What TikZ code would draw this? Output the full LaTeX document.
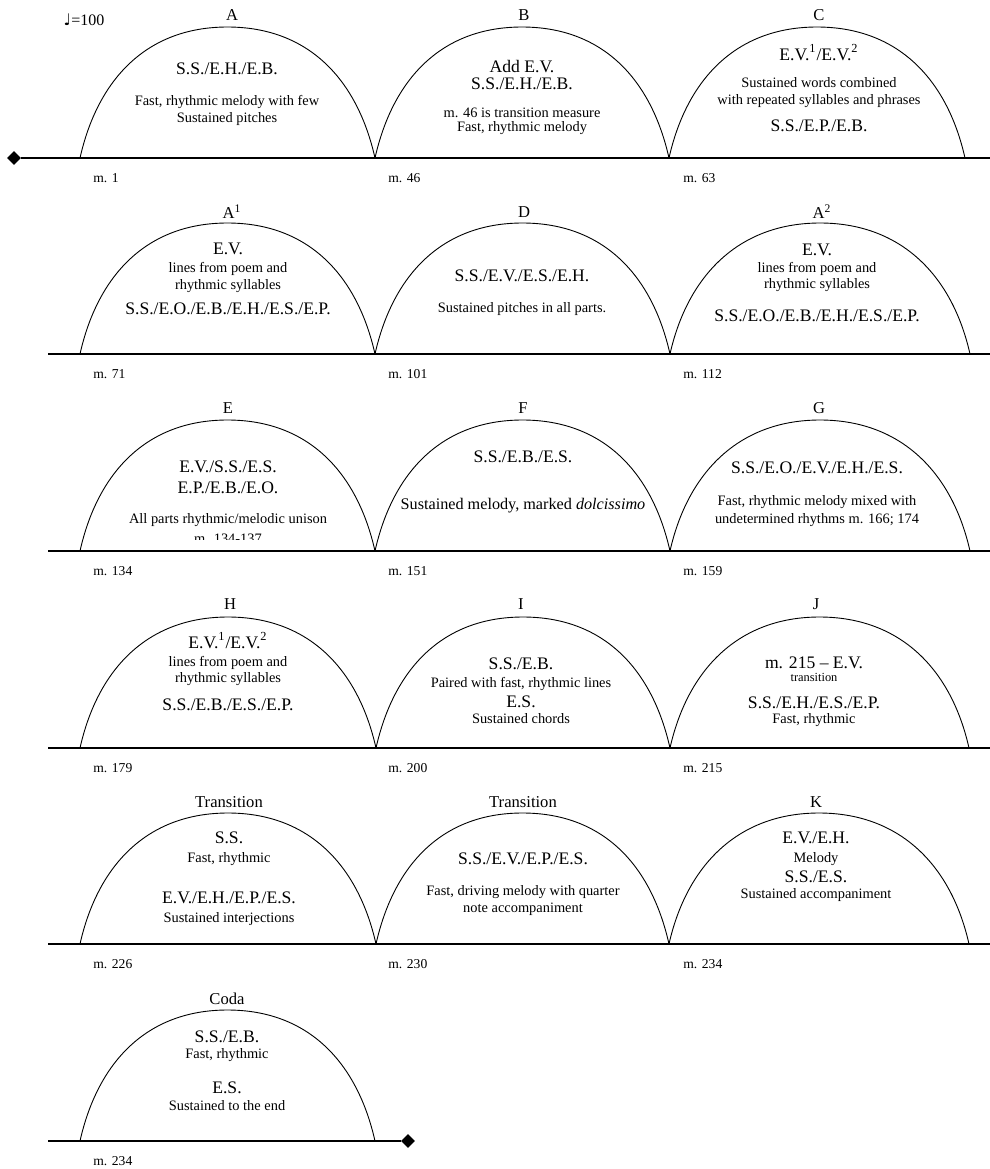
\documentclass[tikz,border=0pt]{standalone}
\usepackage{fontspec}
\setmainfont{Liberation Serif}
\newfontfamily\dejavu{DejaVu Sans}
\usetikzlibrary{shapes.geometric,calc}
\tikzset{
  big/.style={font=\fontsize{8.8}{9}\selectfont, anchor=base, inner sep=0pt},
  small/.style={font=\fontsize{7.2}{8}\selectfont, anchor=base, inner sep=0pt},
  tiny/.style={font=\fontsize{6.2}{7}\selectfont, anchor=base, inner sep=0pt},
  mid/.style={font=\fontsize{8.1}{9}\selectfont, anchor=base, inner sep=0pt},
  ttl/.style={font=\fontsize{8.3}{9}\selectfont, anchor=base, inner sep=0pt},
  mlab/.style={font=\fontsize{6.8}{7}\selectfont, anchor=base west, inner sep=0pt},
  arcline/.style={draw=black, line width=0.45pt},
  rowline/.style={draw=black, line width=0.55pt},
  endmark/.style={diamond, fill=black, inner sep=0pt, minimum width=7pt, minimum height=7pt}
}
\newcommand\hump[4]{%
  \path (#2,#4) coordinate (#1-l) (#3,#4) coordinate (#1-r)
        ($(#1-l)!0.5!(#1-r)+(0,-131)$) coordinate (#1-top);
  \draw[arcline] (#1-l) .. controls +(17.7,-78.6) and +(-81,0) .. (#1-top)
        .. controls +(81,0) and +(-17.7,-78.6) .. (#1-r);
}
\begin{document}
\begin{tikzpicture}[x=0.5pt,y=-0.5pt]
\useasboundingbox (0,0) rectangle (990,1169);
\fill[white] (0,0) rectangle (990,1169);

% ---------- Row 1 ----------
\node[endmark] (start) at (14,158) {};
\coordinate (r1end) at (990,158);
\draw[rowline] (start) -- (r1end);
\hump{hA}{80}{375}{158}
\hump{hB}{375}{669}{158}
\hump{hC}{669}{965}{158}
\node[font=\fontsize{8}{9}\selectfont, anchor=base, inner sep=0pt] (tempo) at (84,25) {{\dejavu ♩}=100};
\node[ttl] (tA) at (232,20) {A};
\node[big] (A1) at (227,74) {S.S./E.H./E.B.};
\node[small] (A2) at (227,105) {Fast, rhythmic melody with few};
\node[small] (A3) at (227,122) {Sustained pitches};
\node[ttl] (tB) at (524,20) {B};
\node[big] (B1) at (522,72) {Add E.V.};
\node[big] (B2) at (522,89) {S.S./E.H./E.B.};
\node[small] (B3) at (522,117) {m. 46 is transition measure};
\node[small] (B4) at (522,131) {Fast, rhythmic melody};
\node[ttl] (tC) at (819,20) {C};
\node[big] (C1) at (819,60) {E.V.\textsuperscript{1}/E.V.\textsuperscript{2}};
\node[small] (C2) at (819,87) {Sustained words combined};
\node[small] (C3) at (819,104) {with repeated syllables and phrases};
\node[big] (C4) at (819,131) {S.S./E.P./E.B.};
\node[mlab] (m1) at (93,182) {m. 1};
\node[mlab] (m46) at (388,182) {m. 46};
\node[mlab] (m63) at (683,182) {m. 63};

% ---------- Row 2 ----------
\coordinate (r2s) at (48,354); \coordinate (r2e) at (990,354);
\draw[rowline] (r2s) -- (r2e);
\hump{hA1}{80}{375}{354}
\hump{hD}{375}{670}{354}
\hump{hA2}{670}{970}{354}
\node[ttl] (tA1) at (232,218) {A\textsuperscript{1}};
\node[big] (Aa1) at (228,254) {E.V.};
\node[small] (Aa2) at (228,272) {lines from poem and};
\node[small] (Aa3) at (228,289) {rhythmic syllables};
\node[big] (Aa4) at (228,314) {S.S./E.O./E.B./E.H./E.S./E.P.};
\node[ttl] (tD) at (524,217) {D};
\node[big] (D1) at (522,281) {S.S./E.V./E.S./E.H.};
\node[small] (D2) at (522,312) {Sustained pitches in all parts.};
\node[ttl] (tA2) at (822,218) {A\textsuperscript{2}};
\node[big] (Ab1) at (817,255) {E.V.};
\node[small] (Ab2) at (817,272) {lines from poem and};
\node[small] (Ab3) at (817,288) {rhythmic syllables};
\node[big] (Ab4) at (817,321) {S.S./E.O./E.B./E.H./E.S./E.P.};
\node[mlab] (m71) at (93,378) {m. 71};
\node[mlab] (m101) at (388,378) {m. 101};
\node[mlab] (m112) at (683,378) {m. 112};

% ---------- Row 3 ----------
\coordinate (r3s) at (48,551); \coordinate (r3e) at (990,551);
\draw[rowline] (r3s) -- (r3e);
\hump{hE}{80}{375}{551}
\hump{hF}{375}{670}{551}
\hump{hG}{670}{970}{551}
\node[ttl] (tE) at (228,413) {E};
\node[big] (E1) at (228,472) {E.V./S.S./E.S.};
\node[big] (E2) at (228,493) {E.P./E.B./E.O.};
\node[small] (E3) at (228,523) {All parts rhythmic/melodic unison};
\begin{scope}
  \clip (100,526) rectangle (360,539);
  \node[small] (E4) at (228,543) {m. 134-137};
\end{scope}
\node[ttl] (tF) at (523,413) {F};
\node[big] (F1) at (523,462) {S.S./E.B./E.S.};
\node[mid] (F2) at (523,509) {Sustained melody, marked \textit{dolcissimo}};
\node[ttl] (tG) at (819,413) {G};
\node[big] (G1) at (817,473) {S.S./E.O./E.V./E.H./E.S.};
\node[small] (G2) at (817,505) {Fast, rhythmic melody mixed with};
\node[small] (G3) at (817,523) {undetermined rhythms m. 166; 174};
\node[mlab] (m134) at (93,575) {m. 134};
\node[mlab] (m151) at (388,575) {m. 151};
\node[mlab] (m159) at (683,575) {m. 159};

% ---------- Row 4 ----------
\coordinate (r4s) at (48,748); \coordinate (r4e) at (990,748);
\draw[rowline] (r4s) -- (r4e);
\hump{hH}{80}{376}{748}
\hump{hI}{376}{670}{748}
\hump{hJ}{670}{969}{748}
\node[ttl] (tH) at (230,609) {H};
\node[big] (H1) at (228,648) {E.V.\textsuperscript{1}/E.V.\textsuperscript{2}};
\node[small] (H2) at (228,666) {lines from poem and};
\node[small] (H3) at (228,682) {rhythmic syllables};
\node[big] (H4) at (228,710) {S.S./E.B./E.S./E.P.};
\node[ttl] (tI) at (521,609) {I};
\node[big] (I1) at (521,669) {S.S./E.B.};
\node[small] (I2) at (521,687) {Paired with fast, rhythmic lines};
\node[big] (I3) at (521,707) {E.S.};
\node[small] (I4) at (521,723) {Sustained chords};
\node[ttl] (tJ) at (816,609) {J};
\node[big] (J1) at (814,668) {m. 215 -- E.V.};
\node[tiny] (J2) at (814,681) {transition};
\node[big] (J3) at (814,708) {S.S./E.H./E.S./E.P.};
\node[small] (J4) at (814,723) {Fast, rhythmic};
\node[mlab] (m179) at (93,772) {m. 179};
\node[mlab] (m200) at (388,772) {m. 200};
\node[mlab] (m215) at (683,772) {m. 215};

% ---------- Row 5 ----------
\coordinate (r5s) at (48,944); \coordinate (r5e) at (990,944);
\draw[rowline] (r5s) -- (r5e);
\hump{hT1}{80}{376}{944}
\hump{hT2}{376}{669}{944}
\hump{hK}{669}{969}{944}
\node[ttl] (tT1) at (229,807) {Transition};
\node[big] (T1a) at (229,843) {S.S.};
\node[small] (T1b) at (229,862) {Fast, rhythmic};
\node[big] (T1c) at (229,903) {E.V./E.H./E.P./E.S.};
\node[small] (T1d) at (229,922) {Sustained interjections};
\node[ttl] (tT2) at (523,807) {Transition};
\node[big] (T2a) at (523,864) {S.S./E.V./E.P./E.S.};
\node[small] (T2b) at (523,895) {Fast, driving melody with quarter};
\node[small] (T2c) at (523,912) {note accompaniment};
\node[ttl] (tK) at (816,807) {K};
\node[big] (K1) at (816,843) {E.V./E.H.};
\node[small] (K2) at (816,862) {Melody};
\node[big] (K3) at (816,882) {S.S./E.S.};
\node[small] (K4) at (816,898) {Sustained accompaniment};
\node[mlab] (m226) at (93,968) {m. 226};
\node[mlab] (m230) at (388,968) {m. 230};
\node[mlab] (m234a) at (683,968) {m. 234};

% ---------- Row 6 ----------
\coordinate (r6s) at (48,1141);
\node[endmark] (finish) at (408,1141) {};
\draw[rowline] (r6s) -- (finish);
\hump{hCoda}{80}{375}{1141}
\node[ttl] (tCoda) at (227,1004) {Coda};
\node[big] (Co1) at (227,1042) {S.S./E.B.};
\node[small] (Co2) at (227,1058) {Fast, rhythmic};
\node[big] (Co3) at (227,1093) {E.S.};
\node[small] (Co4) at (227,1110) {Sustained to the end};
\node[mlab] (m234b) at (93,1165) {m. 234};
\end{tikzpicture}
\end{document}
